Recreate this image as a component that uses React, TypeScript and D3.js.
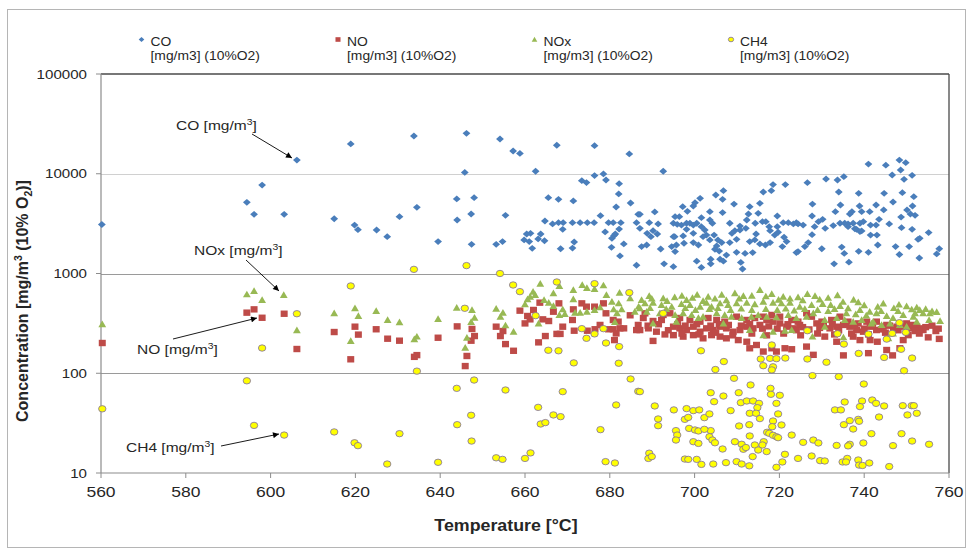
import React from 'react';
import * as d3 from 'd3';

// [temperature °C, concentration mg/m3]
const coData: number[][] = [
  [560.2,3100],[606.2,13700],[598,7700],[594.4,5170],[596.1,3920],[603.2,3920],
  [618.9,19900],[633.8,23900],[646.2,25400],[654.1,22300],[657.2,16900],[658.8,16000],[667.5,19300],[676.4,19100],[684.6,15800],
  [645.8,10300],[662.5,10600],[673.4,8530],[674.5,8150],[676.4,9580],[678.5,9950],[679.1,8660],[682.2,7960],[682.1,6270],[681.5,4640],[684.9,5090],[686.7,3920],[686.3,3230],
  [615.0,3540],[619.8,3060],[620.6,2750],[625.0,2730],[627.5,2340],[630.4,3710],[634.5,4610],[639.5,2090],[643.9,5590],[644.0,3440],[647.3,3950],[648.0,5760],[647.4,1960],[653.2,1960],[654.7,2090],[655.4,3830],
  [659.8,2170],[660.4,2490],[661.0,2090],[661.3,2530],[661.7,1790],[663.1,2220],[663.7,2490],[664.7,3360],[664.6,2130],[665.5,5760],[666.5,3140],[667.9,5540],[667.9,3230],[669.0,3230],[668.9,2770],[668.4,1770],[671.4,5340],[671.2,3230],[671.6,2070],[671.2,1800],
  [673.0,3230],[674.7,3230],[676.3,3230],[677.8,3800],[678.9,2610],[679.7,3230],[680.8,3230],[682.6,3230],[682.2,2790],[680.5,2250],[681.0,2400],[681.3,2490],[680.4,1830],[683.3,1980],[682.4,1500],[686.3,1210],
  [692.6,10600],[741.0,12500],[745.1,12200],[748.3,13700],[749.8,12900],[748.6,10900],[746.6,9720],[749.4,8790],[751.3,9650],[726.6,8140],[731.0,8860],[733.7,8660],[735.2,9350],
  [721.4,7780],[718.5,7780],[718.1,6770],[716.2,6560],[734.0,6560],[738.7,6360],[744.7,6360],[749.0,6460],[751.7,5890],[746.8,5210],[751.4,4750],[750.1,4340],[750.9,3950],[752.0,3830],[748.7,3680],[745.9,3140],
  [742.8,4860],[744.6,4340],[741.3,4170],[739.4,4170],[738.9,4750],[734.4,4860],[727.8,4970],[733.2,4170],[737.1,4170],[736.6,3950],[727.7,3770],[730.2,3490],[734.3,3190],[735.4,3190],[736.2,3140],[737.4,3190],[739.0,3190],[739.8,3310],
  [738.2,2770],[739.4,2670],[741.5,3060],[742.8,3060],[743.5,3490],[743.0,2430],[741.5,2430],[739.0,2630],[737.8,2810],[736.2,2950],[732.7,3020],[730.8,2840],[729.2,3310],[728.3,2950],[727.7,2450],[726.8,2040],[726.0,1860],[724.4,1660],[724.0,1620],
  [730.0,1770],[734.7,1840],[735.3,1590],[732.9,1250],[736.4,1300],[738.7,1670],[741.0,1630],[743.2,1930],[747.4,1860],[748.3,1550],[750.6,1860],[753.0,1430],[757.1,1570],[757.7,1770],[755.2,2570],[753.1,2250],[752.7,2200],[751.3,2770],[748.8,2880],
  [687.1,3920],[687.1,2840],[689.3,3230],[691.4,3140],[690.6,4140],[689.7,2340],[688.8,2530],[691.2,2490],[690.2,2690],[688.7,1930],[687.5,1860],[692.0,1760],[692.8,1250],[695.0,1170],[695.4,1660],[695.7,1930],[695.3,2340],
  [697.3,2380],[697.5,2010],[699.7,2040],[700.9,1930],[700.5,1330],[701.6,1150],[703.8,1390],[703.8,1250],[706.0,1390],[706.8,1330],[707.5,1530],[709.9,1630],[710.9,1290],[711.3,1110],[711.9,1590],[713.7,1620],
  [713.0,2090],[714.2,2170],[714.5,2490],[715.4,1980],[716.7,1930],[717.8,2040],[717.8,2690],[718.9,2430],[719.7,2590],[721.1,2310],[720.7,1860],[721.7,2090],[723.3,3140],[724.4,3140],[725.6,3060],[724.0,3230],[722.1,3230],[720.9,3230],
  [719.5,2950],[719.5,3770],[717.6,2950],[716.8,3310],[716.0,3310],[715.0,4010],[714.3,3190],[715.4,5050],[713.0,4680],[712.7,3950],[712.3,3440],[712.1,2840],[710.7,2990],[710.7,2730],[709.5,2690],[708.8,2530],[708.3,2040],[708.3,3190],[709.9,2200],
  [706.6,4080],[706.8,6770],[705.0,6120],[706.6,5540],[709.3,4970],[706.4,2040],[705.5,2170],[704.8,1750],[703.6,2170],[704.6,2430],[704.2,3190],[703.6,3440],[703.6,4170],[701.6,3630],[701.3,5670],[700.1,5130],[699.7,4750],[698.3,4200],[697.2,4680],
  [696.4,3710],[695.4,3710],[695.0,3190],[695.9,3110],[696.9,3060],[698.1,3190],[698.9,3190],[699.7,3060],[700.5,3190],[701.6,2950],[702.4,2730],[702.8,2430],[702.0,2340],[699.7,2530],[698.1,2770],[695.0,2340],[694.6,1860],[705.2,1890],[705.8,1680],
];

const noData: number[][] = [
  [560.3,201],[594.4,405],[596.1,437],[598,360],[603.2,395],[606.2,175],
  [615.0,259],[619.9,293],[620.7,244],[624.9,276],[627.6,222],[630.4,212],[618.9,138],[634.5,152],[633.9,146],[639.5,227],[644.0,295],[647.5,278],[648.1,236],[647.3,212],[646.3,149],[645.9,118],
  [653.2,293],[654.8,265],[654.2,236],[655.4,196],[657.3,168],[663.2,204],[664.8,236],[658.8,424],[660.0,316],[660.6,375],[661.2,347],[662.0,431],[663.5,510],[664.2,347],[665.6,334],[666.7,414],[668.0,502],[667.5,248],[668.3,248],[668.9,293],
  [671.2,342],[671.4,437],[671.6,267],[673.4,502],[674.5,465],[676.4,465],[678.5,502],[679.1,399],[680.8,342],[682.0,329],[677.7,305],[676.5,276],[674.7,267],[679.7,276],[680.8,276],[682.4,282],[683.3,282],[684.8,381],[686.3,271],[686.7,305],[681.1,215],[681.5,251],
  [687.9,358],[690.2,334],[692.2,342],[687.1,271],[689.1,282],[691.0,261],[690.2,211],[695.0,293],[696.5,282],[698.1,271],[699.7,293],[701.3,261],[702.8,282],[704.4,271],[706.0,293],[707.5,282],[709.1,261],[710.7,271],[712.3,293],[713.8,282],
  [715.4,305],[717.0,342],[718.5,329],[720.1,316],[721.7,293],[723.3,282],[724.8,305],[726.4,399],[727.6,369],[728.8,316],[730.4,305],[731.9,282],[733.5,293],[735.1,305],[736.6,293],[738.2,271],[739.8,261],[741.4,293],[742.9,271],[744.5,293],
  [746.9,282],[749.2,293],[750.8,282],[752.4,293],[753.9,271],[695.0,241],[697.3,233],[699.7,241],[702.0,224],[704.0,241],[706.0,233],[707.5,224],[710.3,215],[712.3,207],[713.0,178],[714.6,192],[716.2,165],[718.2,178],[719.3,165],[721.3,178],[722.9,174],
  [726.4,185],[728.0,153],[730.7,233],[733.5,207],[735.1,151],[737.4,233],[739.0,215],[741.4,215],[743.1,207],[745.3,171],[746.7,151],[748.4,178],[749.2,215],[750.4,241],[755.1,229],[756.9,265],[757.7,221],[741.0,159],
  [688.3,399],[692.6,384],[694.2,399],[696.5,358],[698.9,342],[701.3,329],[703.2,358],[705.2,342],[707.1,329],[709.9,369],[712.3,342],[714.2,358],[716.2,369],[718.2,384],[720.1,369],[722.9,342],[724.4,329],[730.0,329],[732.3,342],[734.3,369],
  [736.2,329],[738.6,316],[740.6,329],[742.9,329],[745.3,305],[747.7,293],[750.0,316],[751.6,305],[753.1,282],
  [689.0,300],[691.5,310],[693.8,270],[696.0,310],[697.8,300],[700.5,310],[703.8,300],[705.8,310],[708.0,305],[711.0,300],[713.0,310],[716.0,280],[717.5,295],[719.5,280],[722.0,310],[724.0,270],[725.5,290],[727.0,275],[729.5,285],[732.5,310],
  [734.0,270],[736.0,310],[737.8,300],[740.0,280],[742.0,300],[744.0,275],[746.0,300],[748.0,270],[750.0,260],[752.0,265],[754.5,290],[756.0,300],[757.5,280],
  [693.0,245],[697.0,250],[701.0,245],[705.0,255],[709.0,240],[713.5,250],[717.0,240],[721.0,250],[725.0,240],[729.0,250],[733.0,245],[737.0,250],[741.0,245],[745.0,255],[753.0,250],
];

const noxData: number[][] = [
  [560.3,310],[594.4,618],[596.1,668],[598,542],[603.1,608],[606.2,270],
  [615.0,399],[619.9,448],[620.7,375],[624.9,421],[627.6,342],[630.4,324],[618.9,211],[634.5,233],[633.9,219],[639.5,350],[643.9,454],[647.5,431],[648.1,361],[647.3,327],[646.3,227],[645.9,180],
  [653.2,444],[654.8,405],[654.2,369],[655.4,302],[657.3,261],[663.6,791],[666.7,633],[668.1,750],[671.4,684],[673.5,767],[674.6,716],[676.4,700],[678.5,761],[679.2,609],[682.3,643],[684.8,564],
  [661.9,658],[661.2,586],[660.6,551],[662.4,609],[660.0,491],[663.2,316],[664.5,543],[665.6,510],[666.7,472],[668.1,384],[668.9,437],[669.4,393],[671.4,551],[671.8,405],[673.0,405],[674.6,414],[676.4,431],[677.7,458],[680.5,522],[680.9,437],[682.1,502],[682.8,437],[681.7,399],[686.8,466],[685.9,414],[681.2,327],
  [689.3,596],[692.6,564],[695.3,578],[698.1,543],[700.6,614],[703.2,586],[706.4,614],[709.5,633],[711.5,596],[715.4,684],[718.2,623],[720.9,586],[724.4,578],[726.6,623],[728.4,596],[733.7,605],[738.6,515],[743.2,465],[748.2,488],[752.4,458],[757.1,411],[757.9,334],[755.3,342],
  [688.3,502],[690.2,510],[692.2,484],[694.6,465],[696.9,495],[698.9,484],[701.3,465],[702.8,510],[704.0,465],[706.0,502],[707.9,484],[709.9,502],[712.3,510],[714.2,491],[716.2,522],[718.5,510],[720.5,502],[722.5,510],[724.8,465],[727.6,484],[730.2,495],[732.1,484],[734.3,472],[736.2,448],[739.0,431],[741.3,414],[742.9,399],[745.3,375],[746.8,358],[749.2,384],[751.2,437],[753.1,431],[753.9,399],[751.6,369],
  [688.7,414],[691.8,399],[695.4,384],[697.3,399],[699.3,384],[702.0,369],[705.2,399],[707.1,384],[708.7,369],[711.1,358],[713.4,369],[715.0,384],[717.0,369],[719.3,364],[722.1,384],[724.0,358],[726.4,369],[728.0,399],[730.7,342],[733.5,358],[735.4,342],[737.4,329],[739.4,342],[741.7,316],[744.1,305],[746.1,316],[748.4,305],[750.0,293],[752.4,329],
  [690.2,316],[695.7,329],[700.9,358],[706.8,316],[713.0,271],[716.2,241],[718.5,261],[721.3,267],[722.9,271],[727.8,233],[735.1,229],[746.8,251],[745.7,224],[742.1,329],[730.7,293],[687.1,448],[687.5,543],
  [689.9,560],[693.5,530],[697.0,600],[699.5,570],[702.0,530],[704.8,560],[707.5,540],[710.5,560],[713.5,600],[716.8,590],[719.8,545],[722.5,560],[725.5,540],[729.5,550],[731.5,570],[735.0,520],[737.5,545],[740.0,480],[744.5,500],[747.0,450],[750.0,470],[754.5,440],[756.0,420],
  [689.5,450],[693.3,440],[697.8,450],[700.2,430],[703.5,440],[705.5,450],[708.5,430],[711.0,445],[713.5,430],[716.8,440],[719.5,430],[721.5,445],[723.5,425],[726.0,440],[729.0,430],[731.5,420],[733.0,440],[735.8,400],[738.0,390],[740.5,380],[744.0,420],[748.0,420],[752.0,400],[755.5,400],
];

const ch4Data: number[][] = [
  [560.3,44],[606.2,395],[598,179],[594.4,84],[596.1,30],[603.2,24],
  [633.8,1100],[646.2,1200],[654.1,1000],[618.9,750],[657.2,767],[658.8,658],[667.5,822],[676.4,791],[684.6,643],[645.8,448],[662.5,378],[673.4,280],[674.5,224],[676.4,248],[678.5,280],[679.1,201],[682.2,185],[682.1,126],
  [665.5,170],[667.9,168],[671.5,127],[634.5,105],[648.0,85.5],[643.9,70.6],[655.4,67.9],[668.9,65.4],[684.9,87.6],[686.7,65.9],[663.1,45.5],[666.7,38.2],[668.4,36.7],[681.5,48.1],[663.7,31.0],[664.8,32.0],[677.8,27.2],
  [644.0,30.5],[647.3,37.9],[647.4,20.9],[615.0,25.8],[619.8,20.1],[620.6,18.8],[630.4,24.8],[627.5,12.3],[639.5,12.8],[653.2,14.2],[654.7,13.7],[660.0,14.0],[661.3,15.9],[679.0,13.0],[681.2,12.6],
  [692.6,399],[701.5,168],[706.9,131],[704.9,109],[709.3,89.0],[713.2,76.3],[715.6,139],[717.8,141],[719.3,140],[721.4,142],[716.2,119],[718.5,116],[718.2,108],[718.2,192],[726.6,267],[726.6,139],[727.8,94.6],[731.1,129],[734.0,92.5],
  [733.7,249],[735.2,196],[738.7,158],[739.9,78.0],[741.0,247],[744.7,144],[746.6,251],[745.3,220],[748.3,321],[749.8,257],[748.7,174],[751.3,142],[749.4,106],
  [687.1,65.4],[690.6,47.0],[691.4,34.8],[691.4,29.8],[695.1,42.9],[695.6,26.6],[695.9,24.0],[695.6,21.4],[698.1,44.2],[697.7,34.5],[698.5,36.1],[699.7,42.2],[701.1,42.9],[698.7,28.0],[700.1,27.0],[700.9,26.4],[702.3,35.9],[703.5,39.1],
  [703.8,63.8],[704.6,51.9],[706.8,59.1],[703.8,26.6],[703.5,23.1],[704.2,21.4],[704.8,20.1],[699.7,20.6],[700.9,19.8],[702.3,27.4],[706.6,17.4],[708.5,42.2],[710.4,63.8],[710.9,50.7],[712.3,52.7],[713.8,52.7],[715.2,49.9],[714.8,45.2],
  [713.0,39.7],[714.5,39.7],[715.4,35.1],[717.9,70.6],[718.0,61.5],[720.1,60.1],[719.3,49.9],[719.7,39.1],[718.5,33.2],[718.3,29.1],[720.5,30.3],[717.1,25.6],[717.6,25.0],[718.5,23.9],[719.3,23.1],[719.7,22.6],[716.3,20.6],[716.0,19.1],
  [714.2,19.1],[713.0,23.5],[710.5,29.6],[712.9,30.5],[709.5,20.6],[711.1,19.4],[711.5,17.3],[712.1,18.0],[715.0,17.0],[717.0,16.4],[713.7,14.6],[709.9,13.0],[711.1,12.3],[712.9,11.8],[707.4,12.7],[704.4,12.3],[701.6,12.2],[700.5,13.7],
  [697.7,13.8],[698.5,13.7],[689.3,15.8],[689.1,14.0],[689.9,14.6],[719.3,11.4],[720.7,12.9],[721.3,15.4],[722.9,24.0],[724.4,14.0],[725.6,20.3],[728.0,21.4],[729.2,20.0],[727.6,14.8],[729.6,13.3],[730.7,13.2],[733.5,18.9],
  [733.1,42.9],[734.5,42.9],[735.4,51.5],[735.2,30.5],[736.6,33.5],[737.4,27.6],[738.6,34.5],[738.8,33.0],[739.5,52.7],[739.0,46.3],[741.9,53.9],[742.8,49.9],[744.7,47.0],[743.5,36.4],[741.7,24.8],[739.8,20.0],[736.6,19.4],[736.2,18.7],
  [734.9,12.9],[736.0,14.0],[735.7,12.9],[738.6,13.5],[738.8,12.0],[739.6,11.9],[741.2,12.6],[745.9,11.6],[746.8,18.8],[748.8,24.8],[751.3,20.9],[755.3,19.4],[749.1,47.3],[751.2,47.3],[751.7,47.3],[750.2,38.2],[752.4,39.7],
];

const xTicks = [560, 580, 600, 620, 640, 660, 680, 700, 720, 740, 760];
const yTicks = [10, 100, 1000, 10000, 100000];
const legendNames = ['CO', 'NO', 'NOx', 'CH4'];
const legendUnit = '[mg/m3] (10%O2)';

const FONT = 'Liberation Sans, Arial, sans-serif';
const BLUE = '#4A7EBB';
const RED = '#BE4B48';
const GREEN = '#98B954';
const YELLOW = '#FFFF00';
const CH4_STROKE = '#7E6CA6';

function Txt({ x, y, size, sx = 1.2, anchor = 'start', weight = 'normal', fill = '#262626', children }: any) {
  return (
    <text transform={`translate(${x},${y}) scale(${sx},1)`} fontSize={size} textAnchor={anchor}
      fontWeight={weight} fill={fill} fontFamily={FONT}>{children}</text>
  );
}

function Marker({ kind, x, y, s = 1 }: any) {
  if (kind === 0) return <path d={`M${x},${y - 3.4 * s}L${x + 3.9 * s},${y}L${x},${y + 3.4 * s}L${x - 3.9 * s},${y}Z`} fill={BLUE} />;
  if (kind === 1) return <rect x={x - 3.5 * s} y={y - 3.2 * s} width={7 * s} height={6.4 * s} fill={RED} />;
  if (kind === 2) return <path d={`M${x},${y - 3.7 * s}L${x + 3.9 * s},${y + 3 * s}L${x - 3.9 * s},${y + 3 * s}Z`} fill={GREEN} />;
  return <ellipse cx={x} cy={y} rx={3.7 * s} ry={3.2 * s} fill={YELLOW} stroke={CH4_STROKE} strokeWidth={0.8} />;
}

function Label({ x, y, name }: any) {
  return (
    <text transform={`translate(${x},${y}) scale(1.15,1)`} fontSize={13.5} fill="#262626" fontFamily={FONT}>
      {name} [mg/m<tspan fontSize={9} dy={-5}>3</tspan><tspan dy={5}>]</tspan>
    </text>
  );
}

export default function App() {
  const W = 971, H = 550;
  const x = d3.scaleLinear().domain([560, 760]).range([101, 949]);
  const y = d3.scaleLog().domain([10, 100000]).range([473, 74]);
  const [x0, x1] = x.range();
  const [yb, yt] = y.range();

  const series = [coData, noData, noxData, ch4Data];
  const arrows = [
    [252, 134, 292, 158],
    [246, 260, 279, 291],
    [173, 339, 257, 318],
    [221, 446, 279, 434],
  ];

  return (
    <svg width={W} height={H} style={{ position: 'absolute', left: 0, top: 0, background: '#fff' }} fontFamily={FONT}>
      <defs>
        <marker id="arr" viewBox="0 0 10 10" refX="10" refY="5" markerWidth="8" markerHeight="6"
          markerUnits="userSpaceOnUse" orient="auto">
          <path d="M0,0L10,5L0,10Z" fill="#000" />
        </marker>
      </defs>
      <rect x={7.5} y={9.5} width={958} height={538} fill="#fff" stroke="#b5b5b5" />

      {/* grid */}
      {yTicks.slice(1, -1).map(t => (
        <line key={t} x1={x0} x2={x1} y1={Math.round(y(t)) + 0.5} y2={Math.round(y(t)) + 0.5}
          stroke={t === 10000 ? '#d0d0d0' : '#9a9a9a'} strokeWidth={1.2} />
      ))}
      {/* plot border: top/right dark, left/bottom axes gray */}
      <line x1={x0} x2={x1} y1={yt} y2={yt} stroke="#4a4a4a" strokeWidth={1.3} />
      <line x1={x1} x2={x1} y1={yt} y2={yb} stroke="#4a4a4a" strokeWidth={1.3} />
      <line x1={x0} x2={x0} y1={yt} y2={yb} stroke="#8c8c8c" strokeWidth={1.2} />
      <line x1={x0} x2={x1} y1={yb} y2={yb} stroke="#8c8c8c" strokeWidth={1.2} />

      {yTicks.map(t => (
        <g key={t}>
          <line x1={x0 - 5} x2={x0} y1={y(t)} y2={y(t)} stroke="#8c8c8c" />
          <Txt x={87} y={y(t) + 4.6} size={12.6} anchor="end">{String(t)}</Txt>
        </g>
      ))}
      {xTicks.map(t => (
        <g key={t}>
          <line x1={x(t)} x2={x(t)} y1={yb} y2={yb + 5} stroke="#8c8c8c" />
          <Txt x={x(t)} y={496.5} size={14.6} anchor="middle">{String(t)}</Txt>
        </g>
      ))}

      {/* data */}
      {series.map((data, k) => (
        <g key={k}>
          {data.map((d, i) => <Marker key={i} kind={k} x={x(d[0])} y={y(d[1])} />)}
        </g>
      ))}

      {/* annotations */}
      {arrows.map((a, i) => (
        <line key={i} x1={a[0]} y1={a[1]} x2={a[2]} y2={a[3]} stroke="#000" strokeWidth={0.9} markerEnd="url(#arr)" />
      ))}
      <Label x={176} y={129.5} name="CO" />
      <Label x={194} y={255} name="NOx" />
      <Label x={137} y={354} name="NO" />
      <Label x={126} y={451.5} name="CH4" />

      {/* legend */}
      {legendNames.map((n, i) => {
        const lx = 141.5 + i * 196.5;
        return (
          <g key={n}>
            <Marker kind={i} x={lx} y={39.5} s={0.72} />
            <Txt x={lx + 9} y={45.7} size={12.6} sx={1.1}>{n}</Txt>
            <Txt x={lx + 9} y={59.5} size={12.6} sx={1.1}>{legendUnit}</Txt>
          </g>
        );
      })}

      {/* axis titles */}
      <Txt x={506} y={531} size={16.5} sx={1.08} anchor="middle" weight="bold">Temperature [°C]</Txt>
      <text transform="translate(27.5,301) rotate(-90)" fontSize={16} fontWeight="bold" textAnchor="middle"
        fill="#262626" fontFamily={FONT}>
        Concentration [mg/m<tspan fontSize={10.5} dy={-6}>3</tspan><tspan dy={6}> (10% O</tspan>
        <tspan fontSize={10.5} dy={4}>2</tspan><tspan dy={-4}>)]</tspan>
      </text>
    </svg>
  );
}
